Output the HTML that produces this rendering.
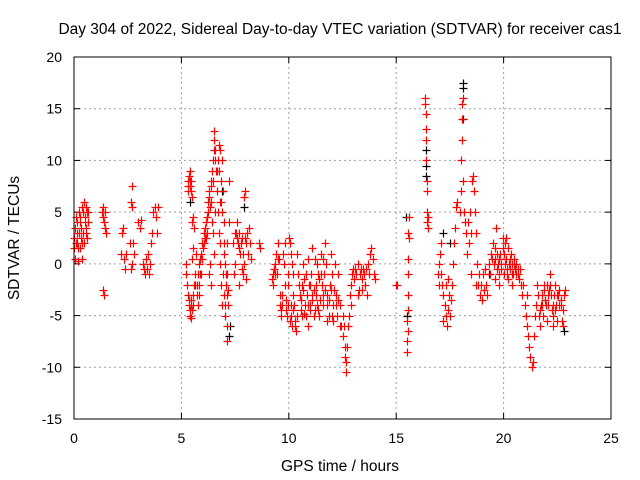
<!DOCTYPE html>
<html><head><meta charset="utf-8"><style>
body{margin:0;background:#fff;}
svg{display:block;font-family:"Liberation Sans",sans-serif;}
</style></head><body>
<svg id="chart" width="640" height="480" viewBox="0 0 640 480">
<rect width="640" height="480" fill="#fff"/>
<text x="340" y="34" font-size="15.5" text-anchor="middle">Day 304 of 2022, Sidereal Day-to-day VTEC variation (SDTVAR) for receiver cas1</text>
<g id="grid"></g>
<g id="ticks"></g>
<g id="black"></g>
<g id="red"></g>
<rect x="74" y="57" width="537" height="362" fill="none" stroke="#000" stroke-width="1"/>
<text x="340" y="471" font-size="15.5" text-anchor="middle">GPS time / hours</text>
<text x="19" y="238" font-size="15.5" text-anchor="middle" transform="rotate(-90 19 238)">SDTVAR / TECUs</text>
</svg>
<script>
const xTicks=[0,5,10,15,20,25];
const yTicks=[-15,-10,-5,0,5,10,15,20];
const redTimes=[0.00,0.03,0.06,0.09,0.12,0.15,0.18,0.21,0.24,0.27,0.30,0.33,0.36,0.39,0.42,0.45,0.48,0.51,0.54,0.57,0.60,0.63,0.66,
0.02,0.08,0.14,0.20,0.26,0.32,0.38,0.44,0.50,0.56,0.62,
1.30,1.33,1.36,1.39,1.42,1.45,1.48,1.35,1.40,
2.20,2.24,2.28,2.32,2.36,2.40,2.60,2.64,2.68,2.72,2.76,2.80,2.70,2.66,
3.00,3.05,3.10,3.20,3.25,3.30,3.35,3.40,3.45,3.50,3.55,3.60,3.65,3.70,3.75,3.80,3.85,3.90,
5.20,5.23,5.26,5.30,5.33,5.36,5.39,5.42,5.45,5.48,5.30,5.35,5.40,5.45,5.50,5.55,5.43,5.50,5.55,5.60,5.62,5.65,
5.32,5.38,5.44,5.34,5.41,5.47,5.52,5.58,5.48,5.52,
5.70,5.72,5.75,5.78,5.80,5.83,5.86,5.90,5.93,5.96,6.00,6.03,6.06,6.10,6.13,6.16,6.20,6.23,6.26,6.30,6.33,6.36,6.40,6.43,6.46,6.50,6.53,6.56,6.60,6.45,6.50,6.55,6.30,6.35,6.40,
5.74,5.82,5.88,5.98,6.08,6.18,6.28,6.38,6.48,6.58,6.52,6.42,
6.65,6.70,6.73,6.76,6.80,6.83,6.86,6.90,6.93,6.96,7.00,7.03,7.06,7.10,6.75,6.80,6.85,6.90,7.00,7.05,7.10,7.13,7.16,7.10,7.12,7.15,7.20,7.20,
6.68,6.78,6.88,6.98,7.08,6.72,6.82,6.92,7.02,
7.40,7.45,7.50,7.55,7.60,7.65,7.70,7.75,7.80,7.85,7.90,7.95,8.00,8.05,8.10,8.15,8.20,8.25,7.70,7.80,7.90,8.00,8.60,8.65,
7.48,7.58,7.68,7.78,7.88,7.98,
9.20,9.25,9.30,9.35,9.40,9.45,9.50,9.55,9.60,9.62,9.65,9.70,9.75,9.80,9.85,9.90,9.95,10.00,10.05,10.10,10.15,10.20,10.25,10.30,10.35,10.40,10.10,10.15,10.20,9.95,9.80,10.05,
9.28,9.38,9.48,9.58,9.68,9.78,9.88,9.98,10.08,10.18,10.28,10.38,
10.40,10.45,10.50,10.55,10.60,10.65,10.70,10.75,10.80,10.85,10.90,10.95,11.00,11.05,11.10,11.15,11.20,11.25,11.30,11.35,11.40,11.45,11.50,11.55,11.60,11.65,11.70,11.75,11.80,11.85,11.90,11.95,12.00,12.05,12.10,12.15,12.20,12.25,12.30,10.60,10.90,11.00,11.20,11.40,11.60,11.80,12.00,11.10,11.30,10.70,
10.48,10.58,10.68,10.78,10.88,10.98,11.08,11.18,11.28,11.38,11.48,11.58,11.68,11.78,11.88,11.98,12.08,12.18,12.28,
12.40,12.45,12.50,12.55,12.60,12.62,12.65,12.68,12.70,12.75,12.80,12.85,12.90,12.50,12.40,
12.95,13.00,13.05,13.10,13.15,13.20,13.25,13.30,13.35,13.40,13.45,13.50,13.55,13.60,13.65,13.70,13.75,13.80,13.85,13.90,13.95,14.00,13.20,13.40,12.90,
15.00,15.05,
15.50,15.52,15.54,15.50,15.55,15.53,15.56,15.55,15.58,15.56,15.60,
16.35,16.36,16.37,16.38,16.40,16.40,16.42,16.42,16.45,16.45,16.47,16.50,
16.95,17.00,17.05,17.10,17.15,17.20,17.25,17.30,17.35,17.40,17.45,17.50,17.55,17.60,17.65,17.70,17.75,17.80,17.85,17.20,17.30,17.40,17.10,17.00,
17.95,18.00,18.02,18.05,18.07,18.08,18.10,18.12,18.15,18.20,18.25,
18.30,18.35,18.40,18.45,18.50,18.55,18.58,18.60,18.65,18.70,18.75,18.80,18.85,18.90,18.95,19.00,19.05,19.10,19.15,19.20,19.25,19.30,19.35,19.40,19.45,18.50,18.70,
19.50,19.55,19.60,19.65,19.70,19.75,19.80,19.85,19.90,19.95,20.00,20.05,20.10,20.15,20.20,20.25,20.30,20.35,20.40,20.45,20.50,20.55,20.60,20.65,20.70,20.75,20.80,20.85,20.90,19.60,19.80,20.00,20.20,20.40,20.10,
19.58,19.68,19.78,19.88,19.98,20.08,20.18,20.28,20.38,20.48,20.58,20.68,
21.00,21.05,21.10,21.15,21.20,21.25,21.30,21.35,21.40,21.45,21.10,
21.50,21.55,21.60,21.65,21.70,21.75,21.80,21.85,21.90,21.95,22.00,22.05,22.10,22.15,22.20,22.25,22.30,22.35,22.40,22.45,22.50,22.55,22.60,22.65,22.70,22.75,22.80,22.85,22.00,22.30,
21.58,21.68,21.78,21.88,21.98,22.08,22.18,22.28,22.38,22.48,22.58,22.68,22.78];
const redValues=[1.5,3.5,0.5,4.5,2,4,0.3,3,5,1.5,4.5,2.5,5.5,0.5,3,6,2,4.5,3,5.5,2.5,5,4,
2.5,2,3,1.5,4,3.5,2,5,4,3.5,5,
5,4.5,5.5,4,5,3.5,3,-2.5,-3,
1,3,3.5,0.5,-0.5,1,2,6,7.5,5.5,2,1,0,-0.5,
4,3.5,4.2,0,-0.5,-1,0.5,-0.5,1,-1,0,2,3,5,5.5,4.5,3,5.5,
0,-1,-2,8,7,8.5,9,7.5,8,6.5,-3,-4,-5,-3.5,-4.5,-4,-5.2,4,4.5,3.5,-1,-2,
7.5,8,7,-3.5,-4.5,-4,-3,-2,0.5,1.5,
1,-2,-4,-1,0,-3,0.5,1,-1,2,1.5,3,2,3.5,2.5,4,3,5,6,7,5.5,8,6,9,10,12,12.8,11,9,3,1,5,-1,0,-2,
-3,-2,-1,0.5,2.5,4.5,6.5,7.5,8,10,11,4,
7,10,11.5,9,11,8,6,10,7,4,2,0,-2,-3,3,0,-2,-4,-3,-5,-1,2,-2.5,-7.5,-6,-4,4,8,
9,6,5,1,-1,5,2,-1,-4,
2,-1,0,3,4,2,3,1,2.5,-1,6.5,7,2,3,1,3.5,2,0.5,-2,-0.5,0,-1.5,2,1.5,
3,2.5,1.5,2,1,2.5,
-1.5,-2,-0.5,0,1,-1,2,0.5,-4,-4.5,-5,-3,1,-2,-3.5,-5,-4,2.5,2,1,0,-1,-4,-5.5,-6.5,-5,-4,-6,-3,-1,2,-5.5,
-1,-1,0.5,-3,-4,0,-4.5,-2,-5,-4.5,-6,-5,
1,-1,-3,-4.5,-2,0,-1.5,-4,-5,-3,0.5,-2,-4,-1,1.5,-2.5,-4.5,-3,0,-1,-5,-3.5,1,-2,-4,-1,2,0,-3,-5,-2,1,-1,-4,-2.5,0,-3,-5,-1,-5,-6,-2,0.5,-1.5,0.5,-5.5,-5,-3.5,-4,-4.8,
-2,-3.5,-2.5,-1,-4,-4.5,-3,-5,-2,-4.5,-1,-3,-2.5,-4,-3.5,-2.5,-5.5,-4,-3.5,
-4,-6,-7,-6,-8,-9,-10.5,-9.5,-8,-6,-5,-3,-4,-5,-6,
-1,-0.5,-1.5,-0.5,-1,0,-2.5,-1,-0.5,-1.5,-0.5,-1,-2,-0.5,-3,0,-1,1,1.5,0.5,-1,-1.5,-3,-2.5,-2,
-2,-2,
-8.5,-7.5,-6.5,-5.5,-4.5,-3,-1,0.5,2.5,3,4.5,
16,15.5,14.5,13,12,10,8,7,5,4,3.5,4.5,
-1,0,1,-1,-2,-3,-4,-5,-6,-4.5,-3,-5,-3.5,-2,0,2,3.5,5.5,6,-5.5,-2,-1.5,2,-2,
5,7,10,12,14,15.5,16,8,5,4,3,
1,4,2,5,3,8,8.5,7,5,3,0,-2,-1,-3,-2,-3.5,-1,-2.5,-0.5,-2,-3,0,-1,1,0.5,-1,-2,
2,0,1.5,3.5,1,0,-1,1,0,2.5,1,2,0.5,-1,1.5,0,-0.5,1,0,-1,0.5,-0.5,0,-1,-1.5,-0.5,-2,-3,-2,-1.5,-2,-1,-1.5,-2,2.5,
0.5,-0.5,0.5,-0.5,1.5,0,-0.5,0.5,-1,0,-1,-0.5,
-4,-5,-6,-7,-8,-9,-10,-9.5,-7,-5,-3,
-4,-2,-3,-5,-6,-4,-3,-5,-2,-3.5,-5.5,-4,-2.5,-1,-3,-4.5,-5,-3,-2,-4,-5.5,-3,-2.5,-4,-5.5,-6,-3,-2.5,-2,-6,
-3,-4.5,-4,-2.5,-4,-3,-2,-4,-4.5,-3,-4,-3.5,-4.5];
const blackTimes=[6.9,7.2,7.25,15.45,15.5,16.4,16.4,16.4,17.2,18.1,18.12,18.1,22.8,17.5,19.3,7.9,5.4];
const blackValues=[7,-7,-6,4.5,-5,11,8.5,9.5,3,17.5,17,14,-6.5,2,-1,5.5,6];

const X0=74,X1=611,Y0=419,Y1=57;
const xScale=t=>X0+(t-0)/(25-0)*(X1-X0);
const yScale=v=>Y0-(v+15)/35*(Y0-Y1);
const NS='http://www.w3.org/2000/svg';
const grid=document.getElementById('grid'),ticks=document.getElementById('ticks');
function mk(tag,attrs,parent){const e=document.createElementNS(NS,tag);for(const k in attrs)e.setAttribute(k,attrs[k]);parent.appendChild(e);return e;}
xTicks.forEach(t=>{
  const x=xScale(t);
  if(t>0&&t<25){const g=mk('line',{x1:x,x2:x,y1:Y1,y2:Y0,stroke:'#a0a0a0','stroke-dasharray':'2,3'},grid);
  
  }
  const a=mk('line',{x1:x,x2:x,y1:Y0,y2:Y0-6,stroke:'#000'},ticks);
  
  
  const b=mk('line',{x1:x,x2:x,y1:Y1,y2:Y1+6,stroke:'#000'},ticks);
  
  
  const l=mk('text',{x:x,y:Y0+24,'font-size':14,'text-anchor':'middle'},ticks);
  l.textContent=t;
  
  
});
yTicks.forEach(v=>{
  const y=yScale(v);
  if(v>-15&&v<20){const g=mk('line',{x1:X0,x2:X1,y1:y,y2:y,stroke:'#a0a0a0','stroke-dasharray':'2,3'},grid);
  
  }
  const a=mk('line',{x1:X0,x2:X0+6,y1:y,y2:y,stroke:'#000'},ticks);
  
  
  const b=mk('line',{x1:X1,x2:X1-6,y1:y,y2:y,stroke:'#000'},ticks);
  
  
  const l=mk('text',{x:X0-12,y:y+5,'font-size':14,'text-anchor':'end'},ticks);
  l.textContent=v;
  
  
});
function plus(times,vals,color,parent){
  let d='';
  times.forEach((t,i)=>{const x=Math.round(xScale(t))+0.5,y=Math.round(yScale(vals[i]))+0.5;
    d+=`M${x-4},${y}H${x+4}M${x},${y-4}V${y+4}`;});
  const p=mk('path',{d:d,stroke:color,'stroke-width':1.2,fill:'none'},parent);
  return p;
}
const pb=plus(blackTimes,blackValues,'#000',document.getElementById('black'));


const pr=plus(redTimes,redValues,'#ff0000',document.getElementById('red'));


</script>
</body></html>
